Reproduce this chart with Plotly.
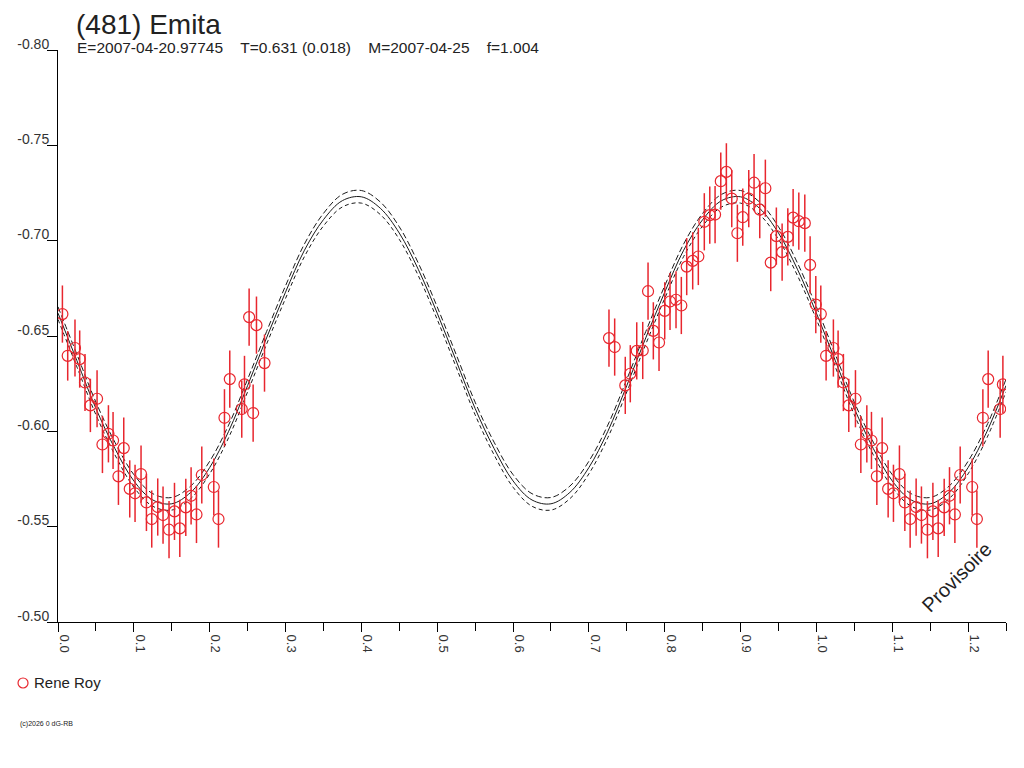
"""
Courbe de lumière repliée de (481) Emita
Points de mesure (Rene Roy) + ajustement avec sa bande d'incertitude
"""

import plotly.graph_objects as go

# Phases et magnitudes (une seule période, repliée ensuite)
phases = [0.0058, 0.0128, 0.0224, 0.0286, 0.0356, 0.0427, 0.0515, 0.0586, 0.0665,
          0.0726, 0.0797, 0.0867, 0.0946, 0.1016, 0.1095, 0.1166, 0.1236, 0.1315,
          0.1385, 0.1464, 0.1536, 0.1606, 0.1685, 0.1755, 0.1826, 0.1896, 0.2054,
          0.2116, 0.2195, 0.2265, 0.2423, 0.2459, 0.2520, 0.2573, 0.2617, 0.2723,
          0.7265, 0.7340, 0.7480, 0.7546, 0.7631, 0.7710, 0.7780, 0.7850, 0.7925,
          0.8000, 0.8070, 0.8149, 0.8219, 0.8290, 0.8369, 0.8443, 0.8522, 0.8594,
          0.8664, 0.8739, 0.8813, 0.8884, 0.8958, 0.9029, 0.9108, 0.9178, 0.9253,
          0.9327, 0.9398, 0.9472, 0.9548, 0.9623, 0.9693, 0.9768, 0.9847, 0.9917,
          0.9992]
mags = [-0.6615, -0.6396, -0.6437, -0.6379, -0.6256, -0.6136, -0.6171, -0.5931, -0.5987,
        -0.5952, -0.5764, -0.5912, -0.5698, -0.5675, -0.5776, -0.5627, -0.5540, -0.5603,
        -0.5561, -0.5484, -0.5580, -0.5491, -0.5601, -0.5662, -0.5564, -0.5771, -0.5708,
        -0.5540, -0.6071, -0.6274, -0.6117, -0.6246, -0.6599, -0.6096, -0.6557, -0.6358,
        -0.6489, -0.6442, -0.6241, -0.6302, -0.6422, -0.6424, -0.6735, -0.6527, -0.6466,
        -0.6632, -0.6681, -0.6690, -0.6660, -0.6864, -0.6894, -0.6917, -0.7099, -0.7134,
        -0.7137, -0.7312, -0.7361, -0.7221, -0.7039, -0.7123, -0.7221, -0.7304, -0.7163,
        -0.7275, -0.6885, -0.7024, -0.6940, -0.7020, -0.7121, -0.7102, -0.7092, -0.6873,
        -0.6665]
erreurs = [0.015, 0.013, 0.015, 0.015, 0.015, 0.014, 0.015, 0.015, 0.015,
           0.015, 0.015, 0.016, 0.015, 0.015, 0.015, 0.015, 0.015, 0.015,
           0.015, 0.015, 0.015, 0.015, 0.015, 0.015, 0.015, 0.015, 0.015,
           0.015, 0.015, 0.015, 0.015, 0.015, 0.015, 0.015, 0.015, 0.015,
           0.015, 0.015, 0.015, 0.015, 0.015, 0.015, 0.015, 0.015, 0.015,
           0.015, 0.015, 0.015, 0.015, 0.015, 0.015, 0.015, 0.015, 0.015,
           0.015, 0.015, 0.015, 0.015, 0.015, 0.015, 0.015, 0.015, 0.015,
           0.015, 0.015, 0.015, 0.015, 0.015, 0.015, 0.015, 0.015, 0.015,
           0.015]

# Courbe ajustée (lue tous les 0.025 en phase)
fit_phase = [0.000, 0.025, 0.050, 0.075, 0.100, 0.125, 0.150, 0.175, 0.200, 0.225,
             0.250, 0.275, 0.300, 0.325, 0.350, 0.375, 0.400, 0.425, 0.450, 0.475,
             0.500, 0.525, 0.550, 0.575, 0.600, 0.625, 0.650, 0.675, 0.700, 0.725,
             0.750, 0.775, 0.800, 0.825, 0.850, 0.875, 0.900, 0.925, 0.950, 0.975,
             1.000, 1.025, 1.050, 1.075, 1.100, 1.125, 1.150, 1.175, 1.200, 1.225,
             1.250]
fit_mag = [-0.662, -0.637, -0.612, -0.591, -0.574, -0.564, -0.562, -0.568, -0.581, -0.600,
           -0.624, -0.649, -0.673, -0.695, -0.711, -0.721, -0.723, -0.717, -0.704, -0.685,
           -0.662, -0.637, -0.612, -0.591, -0.574, -0.564, -0.562, -0.568, -0.581, -0.600,
           -0.624, -0.649, -0.673, -0.695, -0.711, -0.721, -0.723, -0.717, -0.704, -0.685,
           -0.662, -0.637, -0.612, -0.591, -0.574, -0.564, -0.562, -0.568, -0.581, -0.600,
           -0.624]
bande = 0.0033  # demi-largeur de la bande d'incertitude

x_ticks = [0.0, 0.1, 0.2, 0.3, 0.4, 0.5, 0.6, 0.7, 0.8, 0.9, 1.0, 1.1, 1.2]
y_ticks = [-0.80, -0.75, -0.70, -0.65, -0.60, -0.55, -0.50]

PHASE_MAX = 1.25
ROUGE = "#e8262e"
FONT = "Liberation Sans, Arial, sans-serif"


def replier(ph, mg, er):
    """Ajoute la répétition phase+1 tant qu'on reste sur l'axe"""
    xs, ys, es = [], [], []
    for decal in (0.0, 1.0):
        for p, m, e in zip(ph, mg, er):
            if p + decal <= PHASE_MAX:
                xs.append(p + decal)
                ys.append(m)
                es.append(e)
    return xs, ys, es


def texte(fig, txt, x, y, size, **kw):
    fig.add_annotation(text=txt, xref="paper", yref="paper", x=x, y=y,
                       showarrow=False, font=dict(family=FONT, size=size, color="#222"),
                       **kw)


def creer_figure():
    fig = go.Figure()

    # courbe ajustée et bande
    for decal, dash in ((-bande, "6px,3px"), (bande, "4px,3px"), (0.0, "solid")):
        fig.add_trace(go.Scatter(
            x=fit_phase, y=[m + decal for m in fit_mag],
            mode="lines", line=dict(color="#1a1a1a", width=1, dash=dash, shape="spline"),
            showlegend=False, hoverinfo="skip"))

    xs, ys, es = replier(phases, mags, erreurs)
    fig.add_trace(go.Scatter(
        x=xs, y=ys, mode="markers", name="Rene Roy", showlegend=False,
        marker=dict(symbol="circle-open", size=11, color=ROUGE, line=dict(width=1.2)),
        error_y=dict(type="data", array=es, color=ROUGE, thickness=1.5, width=0)))

    fig.update_xaxes(
        range=[0, PHASE_MAX], showgrid=False, zeroline=False, automargin=False,
        showline=True, linecolor="black", linewidth=1,
        ticks="outside", ticklen=9, tickcolor="black",
        tickvals=x_ticks, ticktext=[f"{v:.1f}" for v in x_ticks], tickangle=90,
        ticklabelshift=6,
        minor=dict(dtick=0.05, ticks="outside", ticklen=8, tickcolor="black"),
        tickfont=dict(family=FONT, size=13, color="#333"))
    fig.update_yaxes(
        range=[-0.50, -0.80], showgrid=False, zeroline=False, automargin=False,
        showline=True, linecolor="black", linewidth=1,
        ticks="outside", ticklen=10, tickcolor="black",
        tickvals=y_ticks, ticktext=[f"{v:.2f}" for v in y_ticks],
        ticklabelposition="outside top", ticklabelstandoff=5, ticklabelshift=-4,
        tickfont=dict(family=FONT, size=14, color="#333"))

    texte(fig, "(481) Emita", 0.0180, 1.0726, 28, xanchor="left", yanchor="top",
          borderpad=0)
    sous_titre = "\u00a0\u00a0\u00a0\u00a0".join(
        ["E=2007-04-20.97745", "T=0.631 (0.018)", "M=2007-04-25", "f=1.004"])
    texte(fig, sous_titre, 0.0180, 1.0035, 15.5, xanchor="left", yanchor="middle")
    texte(fig, "Provisoire", 0.948, 0.079, 20, textangle=-45,
          xanchor="center", yanchor="middle")
    texte(fig, "(c)2026 0 dG-RB", -0.0422, -0.178, 7, xanchor="left", yanchor="middle")

    # légende : cercle rouge + nom de l'observateur
    fig.add_shape(type="circle", xref="paper", yref="paper",
                  xsizemode="pixel", ysizemode="pixel",
                  xanchor=-0.0369, yanchor=-0.1066, x0=-5, x1=5, y0=-5, y1=5,
                  line=dict(color=ROUGE, width=1.2))
    texte(fig, "Rene Roy", -0.0274, -0.1066, 15, xanchor="left", yanchor="middle")

    fig.update_layout(
        width=1016, height=760,
        margin=dict(l=50, r=18, t=42, b=146),
        paper_bgcolor="white", plot_bgcolor="white",
        showlegend=False,
    )
    return fig


if __name__ == "__main__":
    fig = creer_figure()
    fig.write_html("out.html")
